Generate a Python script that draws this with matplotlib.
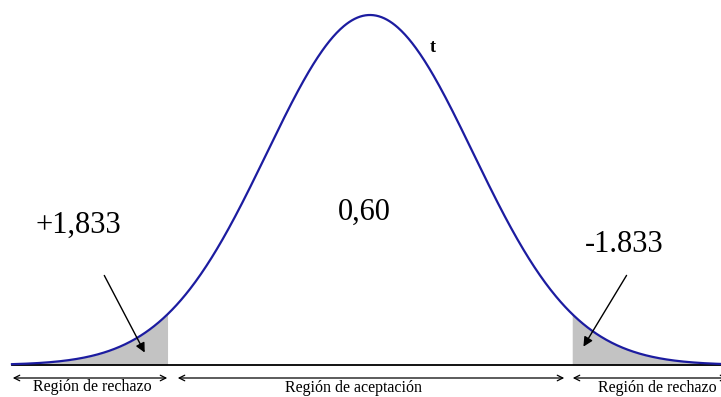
"""Two-tailed rejection regions under a bell curve."""

import numpy as np
import matplotlib.pyplot as plt

W, H = 721, 397

# curve parameters (standard units)
CRIT = 1.96
Z_START = -3.476
Z_END = 3.5

center_label = "0,60"
left_label = "+1,833"
right_label = "-1.833"
region_labels = ["Región de rechazo", "Región de aceptación", "Región de rechazo"]

# layout of the picture in pixels
CX, SIGMA_PX, BASE_PX, PEAK_PX = 370, 103, 365, 350
PEAK_PDF = 1 / np.sqrt(2 * np.pi)
Y_PER_PX = PEAK_PDF / PEAK_PX


def px(x, y):
    """pixel -> figure fraction"""
    return x / W, 1 - y / H


def main() -> None:
    plt.rcParams["font.family"] = ["Liberation Serif", "DejaVu Serif"]
    fig = plt.figure(figsize=(W / 100, H / 100), dpi=100)
    ax = fig.add_axes([0, 0, 1, 1])
    ax.set_xlim(-CX / SIGMA_PX, (W - CX) / SIGMA_PX)
    ax.set_ylim(-(H - BASE_PX) * Y_PER_PX, BASE_PX * Y_PER_PX)
    ax.axis("off")

    z = np.linspace(Z_START, Z_END, 800)
    pdf = np.exp(-z ** 2 / 2) * PEAK_PDF

    left = z <= -CRIT
    right = z >= CRIT
    ax.fill_between(z[left], 0, pdf[left], color="#c3c3c3", lw=0)
    ax.fill_between(z[right], 0, pdf[right], color="#c3c3c3", lw=0)

    ax.plot([Z_START, Z_END], [0, 0], color="black", lw=1.3, zorder=2)
    ax.plot(z, pdf, color="#1c1ca0", lw=1.6, zorder=3)

    tf = fig.transFigure
    ax.text(*px(433, 47), "t", transform=tf, fontsize=13, fontweight="bold", ha="center", va="center")
    ax.text(*px(364, 212), center_label, transform=tf, fontsize=22, ha="center", va="center")
    ax.text(*px(78, 225), left_label, transform=tf, fontsize=22, ha="center", va="center")
    ax.text(*px(624, 244), right_label, transform=tf, fontsize=22, ha="center", va="center")

    arrow = dict(arrowstyle="-|>", color="black", lw=1.0, mutation_scale=14)
    ax.annotate("", xy=px(146, 355), xytext=px(103, 273), xycoords=tf, textcoords=tf, arrowprops=arrow)
    ax.annotate("", xy=px(582, 349), xytext=px(628, 273), xycoords=tf, textcoords=tf, arrowprops=arrow)

    spans = [(10, 170), (175, 567), (570, 730)]
    label_pos = [(33, 387), (285, 388), (598, 388)]
    dbl = dict(arrowstyle="<->", color="black", lw=0.9, mutation_scale=10)
    for (x0, x1), (lx, ly), label in zip(spans, label_pos, region_labels):
        ax.annotate("", xy=px(x0, 378), xytext=px(x1, 378), xycoords=tf, textcoords=tf, arrowprops=dbl)
        ax.text(*px(lx, ly), label, transform=tf, fontsize=11.5, ha="left", va="center")

    fig.savefig("out.png", dpi=100)


if __name__ == "__main__":
    main()
